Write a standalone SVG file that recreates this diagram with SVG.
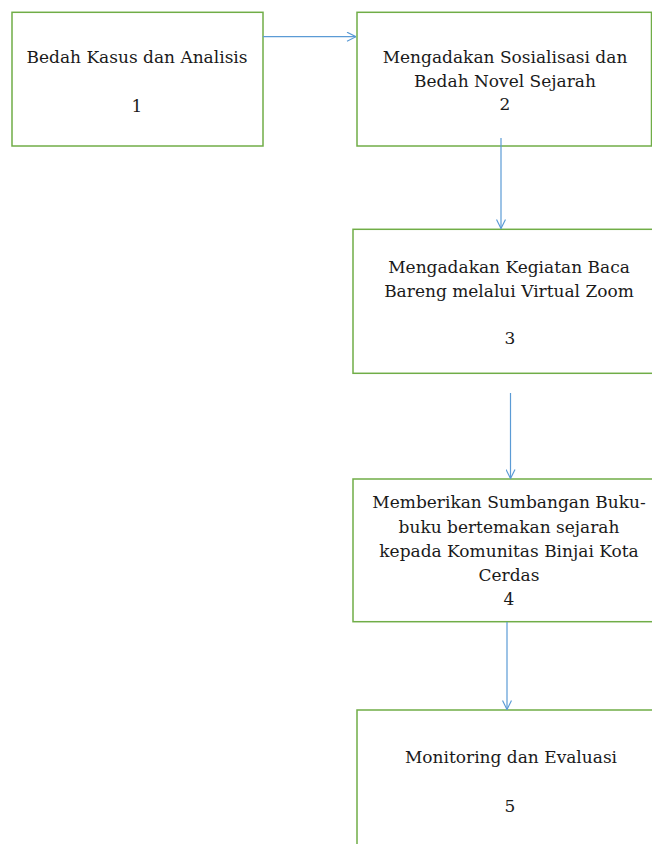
<svg xmlns="http://www.w3.org/2000/svg" width="652" height="844" viewBox="0 0 652 844">
<defs>
<style>
.box{fill:#ffffff;stroke:#70AD47;stroke-width:1.5}
.lbl{font-family:"DejaVu Serif","Liberation Serif",serif;font-size:17px;fill:#1a1a1a;text-anchor:middle}
.conn{stroke:#5B9BD5;stroke-width:1.2;fill:none}
</style>
<marker id="arr" viewBox="0 0 10 10" refX="10" refY="5" markerWidth="10" markerHeight="10" markerUnits="userSpaceOnUse" orient="auto">
<path d="M1,0.5 L10,5 L1,9.5" fill="none" stroke="#5B9BD5" stroke-width="1.2"/>
</marker>
</defs>
<rect width="652" height="844" fill="#ffffff"/>
<g id="node1">
<rect class="box" x="12" y="12.3" width="251" height="133.7"/>
<text class="lbl" x="137" y="63">Bedah Kasus dan Analisis</text>
<text class="lbl" x="137" y="112">1</text>
</g>
<g id="node2">
<rect class="box" x="357" y="12.3" width="294.5" height="133.7"/>
<text class="lbl" x="505" y="63">Mengadakan Sosialisasi dan</text>
<text class="lbl" x="505" y="87">Bedah Novel Sejarah</text>
<text class="lbl" x="505" y="110">2</text>
</g>
<g id="node3">
<rect class="box" x="353" y="229.3" width="320" height="144"/>
<text class="lbl" x="509" y="273">Mengadakan Kegiatan Baca</text>
<text class="lbl" x="509" y="297">Bareng melalui Virtual Zoom</text>
<text class="lbl" x="510" y="344">3</text>
</g>
<g id="node4">
<rect class="box" x="353" y="479" width="320" height="142.7"/>
<text class="lbl" x="509" y="508">Memberikan Sumbangan Buku-</text>
<text class="lbl" x="509" y="533">buku bertemakan sejarah</text>
<text class="lbl" x="509" y="557">kepada Komunitas Binjai Kota</text>
<text class="lbl" x="509" y="581">Cerdas</text>
<text class="lbl" x="509" y="605">4</text>
</g>
<g id="node5">
<rect class="box" x="357" y="710" width="320" height="160"/>
<text class="lbl" x="511" y="763">Monitoring dan Evaluasi</text>
<text class="lbl" x="510" y="812">5</text>
</g>
<g id="connectors">
<line class="conn" x1="263" y1="36.7" x2="356" y2="36.7" marker-end="url(#arr)"/>
<line class="conn" x1="501" y1="138" x2="501" y2="228.5" marker-end="url(#arr)"/>
<line class="conn" x1="510.5" y1="393" x2="510.5" y2="478.5" marker-end="url(#arr)"/>
<line class="conn" x1="507" y1="622" x2="507" y2="709.5" marker-end="url(#arr)"/>
</g>
</svg>
